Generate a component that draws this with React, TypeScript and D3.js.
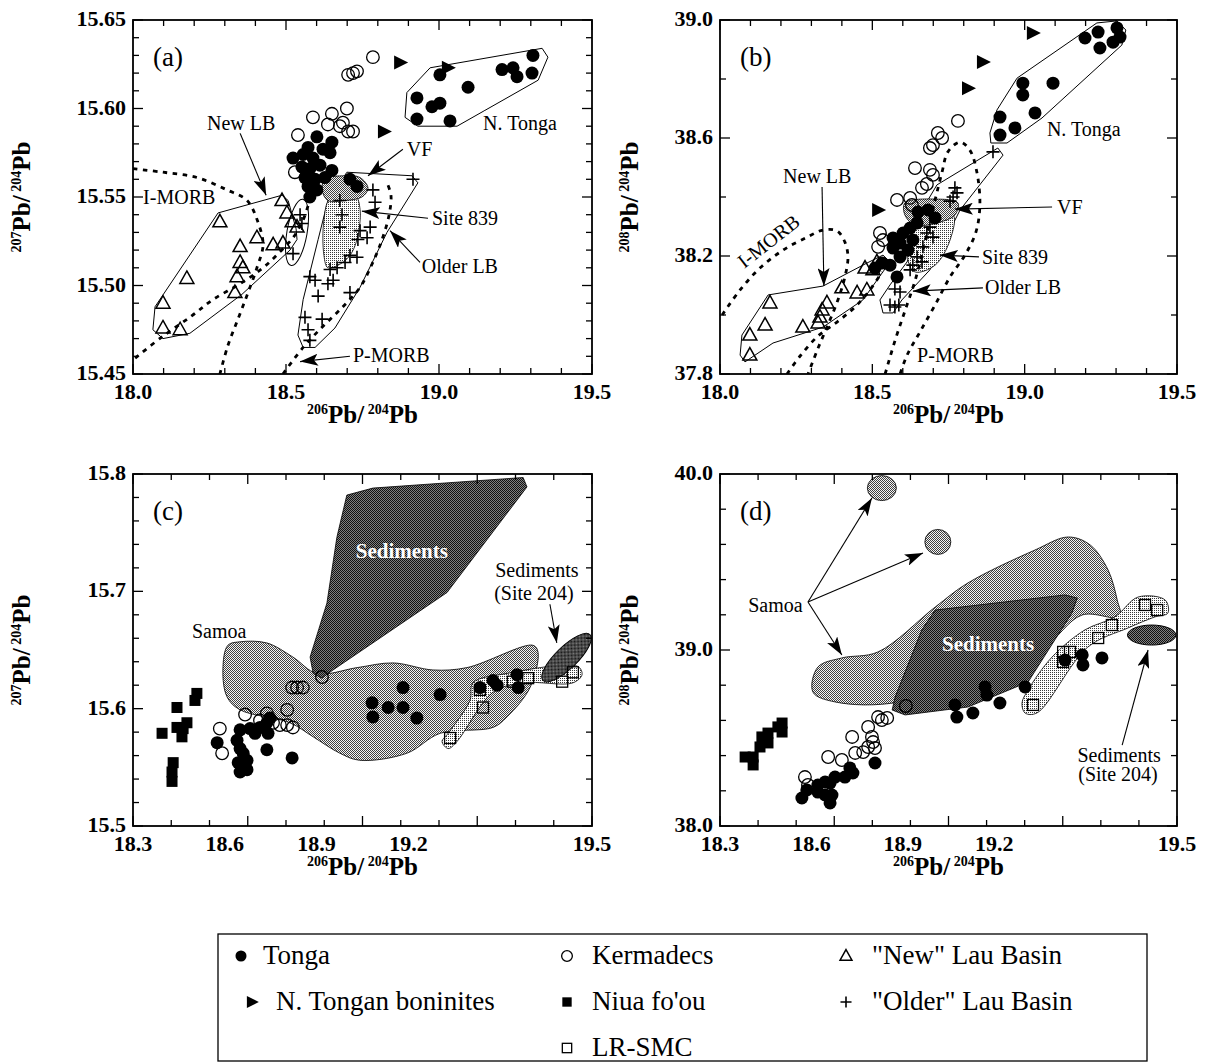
import React from "react";
import * as d3 from "d3";

type Pt = [number, number];

// ---------------- Panel (a): 207Pb/204Pb vs 206Pb/204Pb ----------------
const aTonga: Pt[] = [
  [18.601, 15.584], [18.65, 15.581], [18.572, 15.578], [18.621, 15.577], [18.523, 15.572],
  [18.556, 15.574], [18.588, 15.572], [18.644, 15.575], [18.552, 15.567], [18.578, 15.566],
  [18.611, 15.568], [18.65, 15.565], [18.562, 15.561], [18.595, 15.56], [18.627, 15.561],
  [18.572, 15.556], [18.601, 15.554], [18.578, 15.55], [18.709, 15.56], [18.732, 15.556],
];
const aNTonga: Pt[] = [
  [19.003, 15.619], [19.095, 15.612], [18.928, 15.606], [18.977, 15.601], [19.003, 15.603],
  [18.928, 15.594], [19.036, 15.593], [19.206, 15.622], [19.242, 15.623], [19.255, 15.618],
  [19.304, 15.62], [19.307, 15.63],
];
const aBoninites: Pt[] = [[18.873, 15.626], [19.029, 15.623], [18.82, 15.587]];
const aKermadecs: Pt[] = [
  [18.784, 15.629], [18.703, 15.619], [18.719, 15.62], [18.732, 15.621], [18.699, 15.6],
  [18.588, 15.595], [18.65, 15.597], [18.637, 15.591], [18.676, 15.59], [18.686, 15.592],
  [18.703, 15.587], [18.719, 15.587], [18.539, 15.585], [18.529, 15.564],
];
const aNewLau: Pt[] = [
  [18.487, 15.548], [18.503, 15.541], [18.52, 15.536], [18.536, 15.533], [18.284, 15.536],
  [18.405, 15.527], [18.458, 15.523], [18.49, 15.524], [18.35, 15.522], [18.35, 15.513],
  [18.359, 15.51], [18.34, 15.505], [18.333, 15.496], [18.176, 15.504], [18.098, 15.49],
  [18.098, 15.476], [18.154, 15.475],
];
const aOlderLau: Pt[] = [
  [18.915, 15.56], [18.784, 15.554], [18.791, 15.547], [18.775, 15.533], [18.765, 15.527],
  [18.735, 15.526], [18.709, 15.517], [18.732, 15.516], [18.693, 15.513], [18.676, 15.548],
  [18.683, 15.54], [18.676, 15.533], [18.667, 15.51], [18.595, 15.503], [18.637, 15.501],
  [18.654, 15.503], [18.605, 15.494], [18.709, 15.496], [18.562, 15.482], [18.618, 15.481],
  [18.572, 15.475], [18.578, 15.469], [18.552, 15.535], [18.546, 15.54], [18.523, 15.518],
  [18.742, 15.531], [18.644, 15.509], [18.578, 15.505],
];
const aNTongaField: Pt[] = [
  [18.895, 15.609], [18.971, 15.623], [19.337, 15.634], [19.356, 15.629], [19.324, 15.616],
  [19.059, 15.59], [18.931, 15.59], [18.889, 15.595],
];
const aNewLBField: Pt[] = [
  [18.487, 15.551], [18.278, 15.541], [18.072, 15.488], [18.065, 15.475], [18.098, 15.47],
  [18.186, 15.473], [18.356, 15.495], [18.513, 15.52], [18.536, 15.526], [18.533, 15.532],
  [18.507, 15.548],
];
const aOlderLBField: Pt[] = [
  [18.699, 15.564], [18.912, 15.562], [18.931, 15.558], [18.83, 15.53], [18.742, 15.499],
  [18.66, 15.476], [18.595, 15.465], [18.556, 15.465], [18.539, 15.472], [18.556, 15.492],
  [18.605, 15.526], [18.637, 15.548],
];
const aVFField: Pt[] = [
  [18.627, 15.56], [18.693, 15.562], [18.742, 15.561], [18.768, 15.555], [18.748, 15.55],
  [18.693, 15.548], [18.637, 15.548], [18.618, 15.554],
];
const aSite839Field: Pt[] = [
  [18.644, 15.549], [18.725, 15.551], [18.742, 15.543], [18.732, 15.526], [18.709, 15.517],
  [18.676, 15.512], [18.637, 15.51], [18.624, 15.517], [18.624, 15.537],
];
// ellipse: centre, half-axes in data units, tilt in degrees
const aLBEllipse = { c: [18.536, 15.53] as Pt, rx: 0.033, ry: 0.019, tilt: 10 };
const aIMorbUpper: Pt[] = [
  [18.0, 15.566], [18.098, 15.564], [18.209, 15.561], [18.307, 15.554], [18.373, 15.548],
  [18.408, 15.536], [18.425, 15.523], [18.405, 15.51], [18.376, 15.496], [18.343, 15.481],
  [18.31, 15.466], [18.284, 15.45],
];
const aIMorbLower: Pt[] = [
  [18.007, 15.459], [18.095, 15.471], [18.193, 15.483], [18.261, 15.492], [18.35, 15.501],
  [18.425, 15.51], [18.48, 15.519], [18.523, 15.527], [18.556, 15.537], [18.572, 15.545],
];
const aPMorb: Pt[] = [
  [18.49, 15.45], [18.556, 15.465], [18.621, 15.477], [18.686, 15.488], [18.742, 15.499],
  [18.781, 15.512], [18.814, 15.526], [18.837, 15.54], [18.843, 15.551], [18.83, 15.558],
];

// ---------------- Panel (b): 208Pb/204Pb vs 206Pb/204Pb ----------------
const bTonga: Pt[] = [
  [18.683, 38.356], [18.706, 38.329], [18.647, 38.312], [18.624, 38.295], [18.601, 38.278],
  [18.633, 38.254], [18.591, 38.244], [18.568, 38.227], [18.617, 38.22], [18.591, 38.197],
  [18.532, 38.176], [18.509, 38.159], [18.558, 38.169], [18.581, 38.129], [18.65, 38.349],
  [18.568, 38.261],
];
const bNTonga: Pt[] = [
  [19.198, 38.939], [19.241, 38.959], [19.247, 38.905], [19.303, 38.973], [19.313, 38.942],
  [19.29, 38.925], [18.994, 38.786], [18.994, 38.746], [19.093, 38.786], [19.034, 38.685],
  [18.919, 38.671], [18.968, 38.634], [18.919, 38.61],
];
const bBoninites: Pt[] = [[19.027, 38.956], [18.863, 38.858], [18.814, 38.769], [18.519, 38.356]];
const bKermadecs: Pt[] = [
  [18.781, 38.658], [18.715, 38.617], [18.729, 38.6], [18.699, 38.576], [18.689, 38.566],
  [18.64, 38.498], [18.689, 38.492], [18.699, 38.475], [18.663, 38.431], [18.679, 38.444],
  [18.581, 38.39], [18.624, 38.397], [18.63, 38.373], [18.525, 38.278], [18.519, 38.231],
  [18.535, 38.254],
];
const bNewLau: Pt[] = [
  [18.164, 38.041], [18.148, 37.966], [18.098, 37.932], [18.098, 37.864], [18.272, 37.959],
  [18.322, 37.973], [18.328, 37.993], [18.335, 38.017], [18.351, 38.041], [18.4, 38.092],
  [18.45, 38.075], [18.482, 38.085], [18.476, 38.159], [18.502, 38.153], [18.515, 38.18],
];
const bOlderLau: Pt[] = [
  [18.896, 38.553], [18.771, 38.431], [18.778, 38.414], [18.765, 38.4], [18.755, 38.386],
  [18.679, 38.278], [18.699, 38.264], [18.666, 38.231], [18.689, 38.298], [18.647, 38.197],
  [18.663, 38.18], [18.633, 38.169], [18.624, 38.153], [18.591, 38.078], [18.574, 38.088],
  [18.558, 38.034], [18.574, 38.027], [18.587, 38.034],
];
const bNTongaField: Pt[] = [
  [18.886, 38.617], [18.909, 38.695], [18.975, 38.803], [19.237, 38.99], [19.303, 38.997],
  [19.332, 38.966], [19.319, 38.915], [19.057, 38.668], [18.942, 38.583], [18.889, 38.583],
];
const bNewLBField: Pt[] = [
  [18.158, 38.068], [18.338, 38.098], [18.482, 38.176], [18.535, 38.203], [18.558, 38.18],
  [18.469, 38.051], [18.338, 37.959], [18.174, 37.905], [18.082, 37.841], [18.066, 37.864],
  [18.072, 37.932],
];
const bOlderLBField: Pt[] = [
  [18.712, 38.441], [18.912, 38.566], [18.929, 38.542], [18.788, 38.356], [18.689, 38.153],
  [18.597, 38.051], [18.568, 38.007], [18.535, 38.007], [18.525, 38.051], [18.558, 38.102],
  [18.614, 38.18], [18.647, 38.254], [18.673, 38.373],
];
const bVFField: Pt[] = [
  [18.607, 38.38], [18.706, 38.393], [18.781, 38.38], [18.771, 38.339], [18.722, 38.315],
  [18.64, 38.305], [18.607, 38.339],
];
const bSite839Field: Pt[] = [
  [18.673, 38.322], [18.765, 38.339], [18.755, 38.254], [18.706, 38.169], [18.64, 38.146],
  [18.617, 38.186], [18.63, 38.271],
];
const bIMorb: Pt[] = [
  [18.007, 38.0], [18.066, 38.085], [18.131, 38.159], [18.207, 38.22], [18.286, 38.264],
  [18.338, 38.288], [18.384, 38.285], [18.41, 38.247], [18.42, 38.197], [18.41, 38.129],
  [18.387, 38.051], [18.354, 37.966], [18.322, 37.888], [18.289, 37.8],
];
const bIMorbLower: Pt[] = [
  [18.22, 37.8], [18.263, 37.861], [18.322, 37.929], [18.384, 37.976], [18.443, 38.027],
  [18.492, 38.085], [18.532, 38.146],
];
const bPMorb: Pt[] = [
  [18.542, 37.8], [18.575, 37.915], [18.608, 38.017], [18.641, 38.119], [18.674, 38.254],
  [18.706, 38.39], [18.729, 38.485], [18.748, 38.553], [18.788, 38.586], [18.82, 38.559],
  [18.843, 38.485], [18.853, 38.373], [18.84, 38.281], [18.804, 38.203], [18.755, 38.129],
  [18.706, 38.034], [18.656, 37.942], [18.614, 37.864], [18.591, 37.8],
];

// ---------------- Panel (c): 207Pb/204Pb vs 206Pb/204Pb ----------------
const cTonga: Pt[] = [
  [18.52, 15.571], [18.58, 15.582], [18.606, 15.583], [18.619, 15.579], [18.632, 15.584],
  [18.65, 15.588], [18.658, 15.592], [18.653, 15.579], [18.572, 15.573], [18.58, 15.566],
  [18.588, 15.562], [18.598, 15.556], [18.575, 15.554], [18.58, 15.546], [18.598, 15.548],
  [18.65, 15.565], [18.716, 15.558],
  [18.925, 15.605], [18.927, 15.593], [18.967, 15.601], [19.006, 15.601], [19.006, 15.618],
  [19.042, 15.592], [19.103, 15.612], [19.207, 15.618], [19.252, 15.62], [19.241, 15.624],
  [19.304, 15.629], [19.307, 15.618],
];
const cKermadecs: Pt[] = [
  [18.527, 15.583], [18.533, 15.562], [18.593, 15.595], [18.632, 15.59], [18.65, 15.596],
  [18.666, 15.588], [18.684, 15.586], [18.703, 15.586], [18.718, 15.584], [18.703, 15.599],
  [18.716, 15.618], [18.729, 15.618], [18.744, 15.618], [18.794, 15.627],
];
const cNiua: Pt[] = [
  [18.376, 15.579], [18.415, 15.601], [18.415, 15.584], [18.431, 15.583], [18.441, 15.588],
  [18.428, 15.576], [18.467, 15.613], [18.462, 15.607], [18.405, 15.554], [18.402, 15.546],
  [18.402, 15.538],
];
const cLRSMC: Pt[] = [
  [19.129, 15.575], [19.215, 15.601], [19.207, 15.616], [19.293, 15.623], [19.333, 15.626],
  [19.422, 15.623], [19.45, 15.631],
];
const cSediments: Pt[] = [
  [18.859, 15.782], [18.927, 15.788], [19.32, 15.797], [19.33, 15.789], [19.121, 15.699],
  [18.823, 15.633], [18.794, 15.626], [18.771, 15.63], [18.763, 15.644], [18.807, 15.69],
  [18.833, 15.746],
];
const cSamoa: Pt[] = [
  [18.548, 15.654], [18.58, 15.657], [18.65, 15.656], [18.718, 15.644], [18.781, 15.63],
  [18.886, 15.635], [18.98, 15.639], [19.084, 15.633], [19.173, 15.635], [19.346, 15.654],
  [19.359, 15.648], [19.338, 15.618], [19.278, 15.593], [19.241, 15.584], [19.103, 15.579],
  [19.016, 15.562], [18.893, 15.556], [18.841, 15.562], [18.771, 15.576], [18.71, 15.588],
  [18.58, 15.599], [18.546, 15.61], [18.535, 15.633],
];
const cLRSMCField: Pt[] = [
  [19.108, 15.572], [19.124, 15.566], [19.147, 15.572], [19.241, 15.614], [19.32, 15.622],
  [19.45, 15.622], [19.474, 15.629], [19.463, 15.636], [19.278, 15.63], [19.189, 15.622],
  [19.181, 15.607], [19.124, 15.579],
];
// Site 204 sediments: long-axis end points (data) and half-width (px)
const cSite204 = { a: [19.372, 15.624] as Pt, b: [19.495, 15.663] as Pt, halfWidth: 11 };

// ---------------- Panel (d): 208Pb/204Pb vs 206Pb/204Pb ----------------
const dTonga: Pt[] = [
  [18.515, 38.159], [18.528, 38.205], [18.557, 38.233], [18.576, 38.25], [18.589, 38.244],
  [18.602, 38.278], [18.594, 38.176], [18.589, 38.131], [18.628, 38.278], [18.649, 38.301],
  [18.641, 38.33], [18.707, 38.358], [18.557, 38.193], [18.576, 38.176],
  [18.917, 38.688], [18.922, 38.619], [18.964, 38.642], [18.996, 38.79], [19.001, 38.744],
  [19.035, 38.699], [19.101, 38.79], [19.206, 38.943], [19.251, 38.972], [19.253, 38.915],
  [19.303, 38.955],
];
const dKermadecs: Pt[] = [
  [18.523, 38.278], [18.531, 38.233], [18.584, 38.392], [18.62, 38.375], [18.647, 38.506],
  [18.676, 38.42], [18.689, 38.449], [18.702, 38.477], [18.707, 38.443], [18.689, 38.563],
  [18.699, 38.506], [18.715, 38.619], [18.725, 38.602], [18.739, 38.614], [18.655, 38.415],
  [18.788, 38.682],
];
const dNiua: Pt[] = [
  [18.366, 38.392], [18.387, 38.392], [18.387, 38.347], [18.405, 38.449], [18.41, 38.506],
  [18.426, 38.528], [18.426, 38.472], [18.452, 38.563], [18.463, 38.585], [18.463, 38.534],
];
const dLRSMC: Pt[] = [
  [19.122, 38.688], [19.201, 38.989], [19.201, 38.932], [19.219, 38.989], [19.293, 39.068],
  [19.329, 39.142], [19.416, 39.256], [19.448, 39.227],
];
const dSamoa: Pt[] = [
  [18.544, 38.761], [18.557, 38.903], [18.62, 38.955], [18.715, 38.989], [18.865, 39.244],
  [18.951, 39.381], [19.127, 39.568], [19.214, 39.642], [19.272, 39.597], [19.319, 39.455],
  [19.343, 39.284], [19.35, 39.188], [19.251, 39.199], [19.14, 39.0], [18.773, 38.705],
  [18.602, 38.705],
];
const dSamoaSpots = [
  { c: [18.725, 39.92] as Pt, rx: 14.5, ry: 12.5 },
  { c: [18.872, 39.614] as Pt, rx: 13, ry: 12.5 },
];
const dSediments: Pt[] = [
  [18.865, 39.227], [19.206, 39.313], [19.238, 39.295], [19.224, 39.21], [19.109, 38.818],
  [18.951, 38.676], [18.786, 38.631], [18.752, 38.659], [18.76, 38.733], [18.83, 39.114],
];
const dLRSMCField: Pt[] = [
  [19.093, 38.699], [19.101, 38.642], [19.132, 38.642], [19.266, 39.017], [19.371, 39.125],
  [19.442, 39.188], [19.476, 39.21], [19.469, 39.284], [19.398, 39.301], [19.337, 39.188],
  [19.258, 39.114], [19.172, 38.96], [19.109, 38.773],
];
const dSite204 = { a: [19.37, 39.085] as Pt, b: [19.497, 39.085] as Pt, halfWidth: 10 };

// Lower-row x-axis labels: printed value and the axis position it is printed at
const lowerXLabels = ["18.3", "18.6", "18.9", "19.2", "19.5"];
const lowerXLabelAt = [18.3, 18.54, 18.78, 19.02, 19.5];

// ---------------- Labels and arrows (data coordinates) ----------------
type Note = { t: string; at: Pt; anchor?: string; rot?: number };
type Arrow = { from: Pt; to: Pt };
const aNotes: Note[] = [
  { t: "New LB", at: [18.242, 15.588] },
  { t: "I-MORB", at: [18.033, 15.546] },
  { t: "VF", at: [18.895, 15.573] },
  { t: "Site 839", at: [18.977, 15.534] },
  { t: "Older LB", at: [18.944, 15.507] },
  { t: "N. Tonga", at: [19.144, 15.588] },
  { t: "P-MORB", at: [18.719, 15.457] },
];
const aArrows: Arrow[] = [
  { from: [18.35, 15.586], to: [18.435, 15.551] },
  { from: [18.882, 15.577], to: [18.768, 15.562] },
  { from: [18.964, 15.538], to: [18.748, 15.542] },
  { from: [18.938, 15.513], to: [18.84, 15.531] },
  { from: [18.709, 15.46], to: [18.546, 15.457] },
];
const bNotes: Note[] = [
  { t: "New LB", at: [18.207, 38.447] },
  { t: "I-MORB", at: [18.164, 38.244], anchor: "middle", rot: -38 },
  { t: "N. Tonga", at: [19.073, 38.607] },
  { t: "VF", at: [19.106, 38.342] },
  { t: "Site 839", at: [18.86, 38.173] },
  { t: "Older LB", at: [18.87, 38.071] },
  { t: "P-MORB", at: [18.647, 37.841] },
];
const bArrows: Arrow[] = [
  { from: [18.335, 38.434], to: [18.341, 38.098] },
  { from: [19.09, 38.366], to: [18.771, 38.359] },
  { from: [18.85, 38.197], to: [18.722, 38.203] },
  { from: [18.863, 38.092], to: [18.633, 38.081] },
];
const cNotes: Note[] = [
  { t: "Samoa", at: [18.454, 15.66] },
  { t: "Sediments", at: [19.356, 15.712], anchor: "middle" },
  { t: "(Site 204)", at: [19.348, 15.693], anchor: "middle" },
];
const cArrows: Arrow[] = [{ from: [19.39, 15.689], to: [19.408, 15.656] }];
const dNotes: Note[] = [
  { t: "Samoa", at: [18.374, 39.216] },
  { t: "Sediments", at: [19.348, 38.364], anchor: "middle" },
  { t: "(Site 204)", at: [19.345, 38.256], anchor: "middle" },
];
const dArrows: Arrow[] = [
  { from: [18.531, 39.273], to: [18.699, 39.864] },
  { from: [18.531, 39.273], to: [18.833, 39.551] },
  { from: [18.531, 39.273], to: [18.62, 38.972] },
  { from: [19.356, 38.46], to: [19.424, 39.0] },
];
const cSedLabel: Pt = [19.003, 15.728];
const dSedLabel: Pt = [19.004, 38.994];

const legendRows = [
  [
    { kind: "dot", label: "Tonga", sx: 241, tx: 263 },
    { kind: "ring", label: "Kermadecs", sx: 567, tx: 592 },
    { kind: "tri", label: "\"New\" Lau Basin", sx: 846, tx: 872 },
  ],
  [
    { kind: "rtri", label: "N. Tongan boninites", sx: 252, tx: 276 },
    { kind: "sq", label: "Niua fo'ou", sx: 567, tx: 592 },
    { kind: "plus", label: "\"Older\" Lau Basin", sx: 846, tx: 872 },
  ],
  [{ kind: "osq", label: "LR-SMC", sx: 567, tx: 592 }],
];

const SERIF = '"Liberation Serif", "Times New Roman", Times, serif';

type Scale = d3.ScaleLinear<number, number>;

function Sym({ kind, x, y, s = 1 }: { kind: string; x: number; y: number; s?: number }) {
  switch (kind) {
    case "dot":
      return <circle cx={x} cy={y} r={6.5 * s} fill="#000" />;
    case "ring":
      return <circle cx={x} cy={y} r={6.3 * s} fill="none" stroke="#000" strokeWidth={1.3} />;
    case "tri":
      return (
        <path
          d={`M${x},${y - 7.5 * s}L${x + 7 * s},${y + 5 * s}L${x - 7 * s},${y + 5 * s}Z`}
          fill="none"
          stroke="#000"
          strokeWidth={1.5}
        />
      );
    case "rtri":
      return <path d={`M${x - 6 * s},${y - 7 * s}L${x + 8 * s},${y}L${x - 6 * s},${y + 7 * s}Z`} fill="#000" />;
    case "plus":
      return (
        <path
          d={`M${x - 6.5 * s},${y}H${x + 6.5 * s}M${x},${y - 6.5 * s}V${y + 6.5 * s}`}
          stroke="#000"
          strokeWidth={1.6}
        />
      );
    case "sq":
      return <rect x={x - 5.5 * s} y={y - 5.5 * s} width={11 * s} height={11 * s} fill="#000" />;
    case "osq":
      return (
        <rect x={x - 5.5 * s} y={y - 5.5 * s} width={11 * s} height={11 * s} fill="none" stroke="#000" strokeWidth={1.3} />
      );
    default:
      return null;
  }
}

function Points({ data, kind, x, y }: { data: Pt[]; kind: string; x: Scale; y: Scale }) {
  return (
    <g>
      {data.map((p, i) => (
        <Sym key={i} kind={kind} x={x(p[0])} y={y(p[1])} />
      ))}
    </g>
  );
}

function Field({
  data, x, y, fill = "none", stroke = "#000", sw = 1, smooth = false,
}: {
  data: Pt[]; x: Scale; y: Scale; fill?: string; stroke?: string; sw?: number; smooth?: boolean;
}) {
  const line = d3
    .line<Pt>()
    .x((p) => x(p[0]))
    .y((p) => y(p[1]))
    .curve(smooth ? d3.curveCatmullRomClosed.alpha(0.5) : d3.curveLinearClosed);
  return <path d={line(data) || ""} fill={fill} stroke={stroke} strokeWidth={sw} strokeLinejoin="round" />;
}

function Dashed({ data, x, y }: { data: Pt[]; x: Scale; y: Scale }) {
  const line = d3
    .line<Pt>()
    .x((p) => x(p[0]))
    .y((p) => y(p[1]))
    .curve(d3.curveCatmullRom.alpha(0.5));
  return <path d={line(data) || ""} fill="none" stroke="#000" strokeWidth={2.8} strokeDasharray="4.5 5.5" />;
}

function LongEllipse({
  a, b, halfWidth, x, y, fill,
}: { a: Pt; b: Pt; halfWidth: number; x: Scale; y: Scale; fill: string }) {
  const x1 = x(a[0]), y1 = y(a[1]), x2 = x(b[0]), y2 = y(b[1]);
  const cx = (x1 + x2) / 2, cy = (y1 + y2) / 2;
  const len = Math.hypot(x2 - x1, y2 - y1) / 2;
  const ang = (Math.atan2(y2 - y1, x2 - x1) * 180) / Math.PI;
  return (
    <ellipse cx={cx} cy={cy} rx={len} ry={halfWidth} fill={fill} stroke="#000" strokeWidth={1}
      transform={`rotate(${ang},${cx},${cy})`} />
  );
}

function Notes({ notes, x, y, size = 20 }: { notes: Note[]; x: Scale; y: Scale; size?: number }) {
  return (
    <g fontFamily={SERIF} fontSize={size}>
      {notes.map((n, i) => {
        const px = x(n.at[0]), py = y(n.at[1]);
        return (
          <text key={i} x={px} y={py} textAnchor={n.anchor || "start"}
            transform={n.rot ? `rotate(${n.rot},${px},${py})` : undefined}
            dominantBaseline={n.rot ? "middle" : undefined}
            stroke="#fff" strokeWidth={4} paintOrder="stroke" fill="#000">
            {n.t}
          </text>
        );
      })}
    </g>
  );
}

function Arrows({ arrows, x, y }: { arrows: Arrow[]; x: Scale; y: Scale }) {
  return (
    <g>
      {arrows.map((a, i) => (
        <line key={i} x1={x(a.from[0])} y1={y(a.from[1])} x2={x(a.to[0])} y2={y(a.to[1])}
          stroke="#000" strokeWidth={1.1} markerEnd="url(#head)" />
      ))}
    </g>
  );
}

type Box = { l: number; r: number; t: number; b: number };

function Panel({
  box, xDom, yDom, xStep, xMajor, yStep, yMajor, yFmt, tag, yIso, yTitleX, xLabels, children,
}: {
  box: Box; xDom: Pt; yDom: Pt; xStep: number; xMajor: number; yStep: number; yMajor: number;
  yFmt: string; tag: string; yIso: string; yTitleX: number;
  xLabels?: { text: string[]; at: number[] };
  children: (x: Scale, y: Scale) => React.ReactNode;
}) {
  const x = d3.scaleLinear().domain(xDom).range([box.l, box.r]);
  const y = d3.scaleLinear().domain(yDom).range([box.b, box.t]);
  const steps = (d: Pt, s: number) =>
    d3.range(Math.round((d[1] - d[0]) / s) + 1).map((i) => +(d[0] + i * s).toFixed(4));
  const isMajor = (v: number, d0: number, m: number) => {
    const q = (v - d0) / m;
    return Math.abs(q - Math.round(q)) < 1e-6;
  };
  const xt = steps(xDom, xStep);
  const yt = steps(yDom, yStep);
  const fx = d3.format(".1f");
  const fy = d3.format(yFmt);
  const cx = (box.l + box.r) / 2;
  const cy = (box.t + box.b) / 2;
  const clipId = `clip-${tag}`;
  const xl = xLabels
    ? xLabels.text.map((t, i) => ({ t, px: x(xLabels.at[i]) }))
    : xt.filter((v) => isMajor(v, xDom[0], xMajor)).map((v) => ({ t: fx(v), px: x(v) }));
  return (
    <g>
      <clipPath id={clipId}>
        <rect x={box.l} y={box.t} width={box.r - box.l} height={box.b - box.t} />
      </clipPath>
      <g clipPath={`url(#${clipId})`}>{children(x, y)}</g>
      <rect x={box.l} y={box.t} width={box.r - box.l} height={box.b - box.t} fill="none" stroke="#000" strokeWidth={1.8} />
      <g stroke="#000" strokeWidth={1.3}>
        {xt.map((v, i) => {
          const L = isMajor(v, xDom[0], xMajor) ? 10 : 6;
          const px = x(v);
          return (
            <g key={i}>
              <line x1={px} x2={px} y1={box.b} y2={box.b - L} />
              <line x1={px} x2={px} y1={box.t} y2={box.t + L} />
            </g>
          );
        })}
        {yt.map((v, i) => {
          const L = isMajor(v, yDom[0], yMajor) ? 10 : 6;
          const py = y(v);
          return (
            <g key={i}>
              <line x1={box.l} x2={box.l + L} y1={py} y2={py} />
              <line x1={box.r} x2={box.r - L} y1={py} y2={py} />
            </g>
          );
        })}
      </g>
      <g fontFamily={SERIF} fontWeight="bold" fontSize={22} fill="#000">
        {xl.map((d, i) => (
          <text key={i} x={d.px} y={box.b + 25} textAnchor="middle">{d.t}</text>
        ))}
        {yt.filter((v) => isMajor(v, yDom[0], yMajor)).map((v, i) => (
          <text key={i} x={box.l - 7} y={y(v) + 6} textAnchor="end">{fy(v)}</text>
        ))}
      </g>
      <text x={box.l + 20} y={box.t + 46} fontFamily={SERIF} fontSize={27}>({tag})</text>
      <g fontFamily={SERIF} fontWeight="bold" fontSize={25}>
        <text x={cx} y={box.b + 49} textAnchor="middle">
          <tspan fontSize={14} dy={-9}>206</tspan>
          <tspan dy={9}>Pb/</tspan>
          <tspan fontSize={14} dy={-9}> 204</tspan>
          <tspan dy={9}>Pb</tspan>
        </text>
        <text x={yTitleX} y={cy} textAnchor="middle" transform={`rotate(-90,${yTitleX},${cy})`}>
          <tspan fontSize={14} dy={-9}>{yIso}</tspan>
          <tspan dy={9}>Pb/</tspan>
          <tspan fontSize={14} dy={-9}> 204</tspan>
          <tspan dy={9}>Pb</tspan>
        </text>
      </g>
    </g>
  );
}

function Pattern({ id, bg, fg, dense }: { id: string; bg: string; fg: string; dense: boolean }) {
  return (
    <pattern id={id} width={2} height={2} patternUnits="userSpaceOnUse">
      <rect width={2} height={2} fill={bg} />
      <rect width={1} height={1} fill={fg} />
      {dense && <rect x={1} y={1} width={1} height={1} fill={fg} />}
    </pattern>
  );
}

export default function App() {
  const lower = { text: lowerXLabels, at: lowerXLabelAt };
  return (
    <svg width={1208} height={1064} viewBox="0 0 1208 1064"
      style={{ position: "absolute", left: 0, top: 0, display: "block", background: "#fff" }}>
      <defs>
        <Pattern id="pMid" bg="#f4f4f4" fg="#404040" dense />
        <Pattern id="pDark" bg="#808080" fg="#111" dense />
        <Pattern id="pLight" bg="#fff" fg="#3a3a3a" dense={false} />
        <marker id="head" viewBox="0 0 18 12" refX={18} refY={6} markerWidth={18} markerHeight={12}
          markerUnits="userSpaceOnUse" orient="auto">
          <path d="M0,0L18,6L0,12L4,6Z" fill="#000" />
        </marker>
      </defs>

      <Panel box={{ l: 133, r: 592, t: 20, b: 374 }} xDom={[18, 19.5]} yDom={[15.45, 15.65]}
        xStep={0.1} xMajor={0.5} yStep={0.01} yMajor={0.05} yFmt=".2f" tag="a" yIso="207" yTitleX={30}>
        {(x, y) => (
          <g>
            <Field data={aOlderLBField} x={x} y={y} />
            <Field data={aSite839Field} x={x} y={y} fill="url(#pLight)" sw={0.8} smooth />
            <Field data={aVFField} x={x} y={y} fill="url(#pMid)" sw={0.8} smooth />
            <Field data={aNewLBField} x={x} y={y} />
            <Field data={aNTongaField} x={x} y={y} />
            <ellipse cx={x(aLBEllipse.c[0])} cy={y(aLBEllipse.c[1])}
              rx={x(aLBEllipse.c[0] + aLBEllipse.rx) - x(aLBEllipse.c[0])}
              ry={y(aLBEllipse.c[1] - aLBEllipse.ry) - y(aLBEllipse.c[1])}
              transform={`rotate(${aLBEllipse.tilt},${x(aLBEllipse.c[0])},${y(aLBEllipse.c[1])})`}
              fill="none" stroke="#000" strokeWidth={1} />
            <Dashed data={aIMorbUpper} x={x} y={y} />
            <Dashed data={aIMorbLower} x={x} y={y} />
            <Dashed data={aPMorb} x={x} y={y} />
            <Points data={aKermadecs} kind="ring" x={x} y={y} />
            <Points data={aTonga} kind="dot" x={x} y={y} />
            <Points data={aNTonga} kind="dot" x={x} y={y} />
            <Points data={aBoninites} kind="rtri" x={x} y={y} />
            <Points data={aNewLau} kind="tri" x={x} y={y} />
            <Points data={aOlderLau} kind="plus" x={x} y={y} />
            <Arrows arrows={aArrows} x={x} y={y} />
            <Notes notes={aNotes} x={x} y={y} />
          </g>
        )}
      </Panel>

      <Panel box={{ l: 720, r: 1177, t: 20, b: 374 }} xDom={[18, 19.5]} yDom={[37.8, 39.0]}
        xStep={0.1} xMajor={0.5} yStep={0.2} yMajor={0.4} yFmt=".1f" tag="b" yIso="208" yTitleX={638}>
        {(x, y) => (
          <g>
            <Field data={bOlderLBField} x={x} y={y} />
            <Field data={bSite839Field} x={x} y={y} fill="url(#pLight)" sw={0.8} smooth />
            <Field data={bVFField} x={x} y={y} fill="url(#pMid)" sw={0.8} smooth />
            <Field data={bNewLBField} x={x} y={y} />
            <Field data={bNTongaField} x={x} y={y} />
            <Dashed data={bIMorb} x={x} y={y} />
            <Dashed data={bIMorbLower} x={x} y={y} />
            <Dashed data={bPMorb} x={x} y={y} />
            <Points data={bKermadecs} kind="ring" x={x} y={y} />
            <Points data={bTonga} kind="dot" x={x} y={y} />
            <Points data={bNTonga} kind="dot" x={x} y={y} />
            <Points data={bBoninites} kind="rtri" x={x} y={y} />
            <Points data={bNewLau} kind="tri" x={x} y={y} />
            <Points data={bOlderLau} kind="plus" x={x} y={y} />
            <Arrows arrows={bArrows} x={x} y={y} />
            <Notes notes={bNotes} x={x} y={y} />
          </g>
        )}
      </Panel>

      <Panel box={{ l: 133, r: 592, t: 474, b: 826 }} xDom={[18.3, 19.5]} yDom={[15.5, 15.8]}
        xStep={0.1} xMajor={0.3} yStep={0.02} yMajor={0.1} yFmt=".1f" tag="c" yIso="207" yTitleX={30}
        xLabels={lower}>
        {(x, y) => (
          <g>
            <Field data={cSamoa} x={x} y={y} fill="url(#pMid)" sw={0.8} smooth />
            <Field data={cSediments} x={x} y={y} fill="url(#pDark)" sw={0.8} />
            <Field data={cLRSMCField} x={x} y={y} fill="url(#pLight)" sw={0.8} smooth />
            <LongEllipse {...cSite204} x={x} y={y} fill="url(#pDark)" />
            <text x={x(cSedLabel[0])} y={y(cSedLabel[1])} textAnchor="middle" fontFamily={SERIF}
              fontWeight="bold" fontSize={21} fill="#fff">Sediments</text>
            <Points data={cNiua} kind="sq" x={x} y={y} />
            <Points data={cKermadecs} kind="ring" x={x} y={y} />
            <Points data={cTonga} kind="dot" x={x} y={y} />
            <Points data={cLRSMC} kind="osq" x={x} y={y} />
            <Arrows arrows={cArrows} x={x} y={y} />
            <Notes notes={cNotes} x={x} y={y} />
          </g>
        )}
      </Panel>

      <Panel box={{ l: 720, r: 1177, t: 474, b: 826 }} xDom={[18.3, 19.5]} yDom={[38.0, 40.0]}
        xStep={0.1} xMajor={0.3} yStep={0.2} yMajor={1.0} yFmt=".1f" tag="d" yIso="208" yTitleX={638}
        xLabels={lower}>
        {(x, y) => (
          <g>
            <Field data={dSamoa} x={x} y={y} fill="url(#pMid)" sw={0.8} smooth />
            {dSamoaSpots.map((s, i) => (
              <ellipse key={i} cx={x(s.c[0])} cy={y(s.c[1])} rx={s.rx} ry={s.ry} fill="url(#pMid)" stroke="#000" strokeWidth={0.8} />
            ))}
            <Field data={dSediments} x={x} y={y} fill="url(#pDark)" sw={0.8} />
            <Field data={dLRSMCField} x={x} y={y} fill="url(#pLight)" sw={0.8} smooth />
            <LongEllipse {...dSite204} x={x} y={y} fill="url(#pDark)" />
            <text x={x(dSedLabel[0])} y={y(dSedLabel[1])} textAnchor="middle" fontFamily={SERIF}
              fontWeight="bold" fontSize={21} fill="#fff">Sediments</text>
            <Points data={dNiua} kind="sq" x={x} y={y} />
            <Points data={dKermadecs} kind="ring" x={x} y={y} />
            <Points data={dTonga} kind="dot" x={x} y={y} />
            <Points data={dLRSMC} kind="osq" x={x} y={y} />
            <Arrows arrows={dArrows} x={x} y={y} />
            <Notes notes={dNotes} x={x} y={y} />
          </g>
        )}
      </Panel>

      <g>
        <rect x={218} y={934} width={929} height={127} fill="none" stroke="#000" strokeWidth={1.3} />
        {legendRows.map((row, ri) =>
          row.map((e, ci) => {
            const yy = 956 + ri * 46;
            return (
              <g key={`${ri}-${ci}`}>
                <Sym kind={e.kind} x={e.sx} y={yy} s={0.85} />
                <text x={e.tx} y={yy + 8} fontFamily={SERIF} fontSize={27}>{e.label}</text>
              </g>
            );
          })
        )}
      </g>
    </svg>
  );
}
